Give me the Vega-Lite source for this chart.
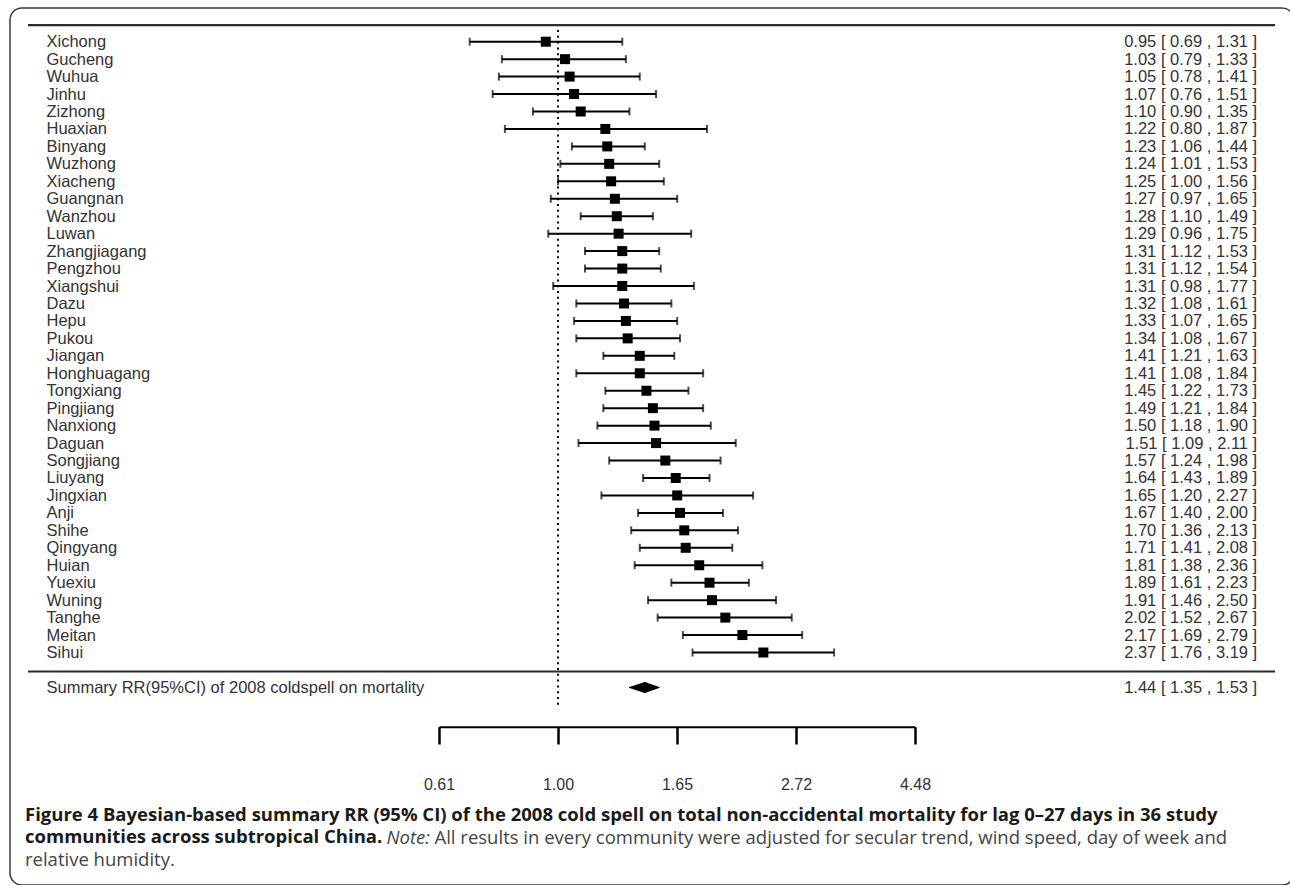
{
  "$schema": "https://vega.github.io/schema/vega-lite/v6.json",
  "width": 1284,
  "height": 877,
  "autosize": {"type": "none"},
  "padding": {"left": 10, "top": 8, "right": 0, "bottom": 0},
  "background": "white",
  "config": {
    "view": {"stroke": "#3a3a3a", "strokeWidth": 1.5, "cornerRadius": 12},
    "font": "Liberation Sans"
  },
  "title": {
    "text": [
      "Figure 4 Bayesian-based summary RR (95% CI) of the 2008 cold spell on total non-accidental mortality for lag 0–27 days in 36 study",
      "communities across subtropical China."
    ],
    "subtitle": "relative humidity.",
    "orient": "bottom",
    "anchor": "start",
    "frame": "group",
    "offset": -79.1,
    "dx": 15,
    "font": "Open Sans",
    "fontSize": 18.5,
    "fontWeight": "bold",
    "color": "#1a1a1a",
    "lineHeight": 22.5,
    "baseline": "top",
    "subtitleFont": "Open Sans",
    "subtitleFontSize": 18.5,
    "subtitleFontWeight": "normal",
    "subtitleColor": "#444444",
    "subtitlePadding": 4
  },
  "datasets": {
    "forest": [
      {"name": "Xichong", "ci": "0.95 [ 0.69 , 1.31 ]", "rr": 0.95, "lo": 0.69, "hi": 1.31, "kind": "community"},
      {"name": "Gucheng", "ci": "1.03 [ 0.79 , 1.33 ]", "rr": 1.03, "lo": 0.79, "hi": 1.33, "kind": "community"},
      {"name": "Wuhua", "ci": "1.05 [ 0.78 , 1.41 ]", "rr": 1.05, "lo": 0.78, "hi": 1.41, "kind": "community"},
      {"name": "Jinhu", "ci": "1.07 [ 0.76 , 1.51 ]", "rr": 1.07, "lo": 0.76, "hi": 1.51, "kind": "community"},
      {"name": "Zizhong", "ci": "1.10 [ 0.90 , 1.35 ]", "rr": 1.10, "lo": 0.90, "hi": 1.35, "kind": "community"},
      {"name": "Huaxian", "ci": "1.22 [ 0.80 , 1.87 ]", "rr": 1.22, "lo": 0.80, "hi": 1.87, "kind": "community"},
      {"name": "Binyang", "ci": "1.23 [ 1.06 , 1.44 ]", "rr": 1.23, "lo": 1.06, "hi": 1.44, "kind": "community"},
      {"name": "Wuzhong", "ci": "1.24 [ 1.01 , 1.53 ]", "rr": 1.24, "lo": 1.01, "hi": 1.53, "kind": "community"},
      {"name": "Xiacheng", "ci": "1.25 [ 1.00 , 1.56 ]", "rr": 1.25, "lo": 1.00, "hi": 1.56, "kind": "community"},
      {"name": "Guangnan", "ci": "1.27 [ 0.97 , 1.65 ]", "rr": 1.27, "lo": 0.97, "hi": 1.65, "kind": "community"},
      {"name": "Wanzhou", "ci": "1.28 [ 1.10 , 1.49 ]", "rr": 1.28, "lo": 1.10, "hi": 1.49, "kind": "community"},
      {"name": "Luwan", "ci": "1.29 [ 0.96 , 1.75 ]", "rr": 1.29, "lo": 0.96, "hi": 1.75, "kind": "community"},
      {"name": "Zhangjiagang", "ci": "1.31 [ 1.12 , 1.53 ]", "rr": 1.31, "lo": 1.12, "hi": 1.53, "kind": "community"},
      {"name": "Pengzhou", "ci": "1.31 [ 1.12 , 1.54 ]", "rr": 1.31, "lo": 1.12, "hi": 1.54, "kind": "community"},
      {"name": "Xiangshui", "ci": "1.31 [ 0.98 , 1.77 ]", "rr": 1.31, "lo": 0.98, "hi": 1.77, "kind": "community"},
      {"name": "Dazu", "ci": "1.32 [ 1.08 , 1.61 ]", "rr": 1.32, "lo": 1.08, "hi": 1.61, "kind": "community"},
      {"name": "Hepu", "ci": "1.33 [ 1.07 , 1.65 ]", "rr": 1.33, "lo": 1.07, "hi": 1.65, "kind": "community"},
      {"name": "Pukou", "ci": "1.34 [ 1.08 , 1.67 ]", "rr": 1.34, "lo": 1.08, "hi": 1.67, "kind": "community"},
      {"name": "Jiangan", "ci": "1.41 [ 1.21 , 1.63 ]", "rr": 1.41, "lo": 1.21, "hi": 1.63, "kind": "community"},
      {"name": "Honghuagang", "ci": "1.41 [ 1.08 , 1.84 ]", "rr": 1.41, "lo": 1.08, "hi": 1.84, "kind": "community"},
      {"name": "Tongxiang", "ci": "1.45 [ 1.22 , 1.73 ]", "rr": 1.45, "lo": 1.22, "hi": 1.73, "kind": "community"},
      {"name": "Pingjiang", "ci": "1.49 [ 1.21 , 1.84 ]", "rr": 1.49, "lo": 1.21, "hi": 1.84, "kind": "community"},
      {"name": "Nanxiong", "ci": "1.50 [ 1.18 , 1.90 ]", "rr": 1.50, "lo": 1.18, "hi": 1.90, "kind": "community"},
      {"name": "Daguan", "ci": "1.51 [ 1.09 , 2.11 ]", "rr": 1.51, "lo": 1.09, "hi": 2.11, "kind": "community"},
      {"name": "Songjiang", "ci": "1.57 [ 1.24 , 1.98 ]", "rr": 1.57, "lo": 1.24, "hi": 1.98, "kind": "community"},
      {"name": "Liuyang", "ci": "1.64 [ 1.43 , 1.89 ]", "rr": 1.64, "lo": 1.43, "hi": 1.89, "kind": "community"},
      {"name": "Jingxian", "ci": "1.65 [ 1.20 , 2.27 ]", "rr": 1.65, "lo": 1.20, "hi": 2.27, "kind": "community"},
      {"name": "Anji", "ci": "1.67 [ 1.40 , 2.00 ]", "rr": 1.67, "lo": 1.40, "hi": 2.00, "kind": "community"},
      {"name": "Shihe", "ci": "1.70 [ 1.36 , 2.13 ]", "rr": 1.70, "lo": 1.36, "hi": 2.13, "kind": "community"},
      {"name": "Qingyang", "ci": "1.71 [ 1.41 , 2.08 ]", "rr": 1.71, "lo": 1.41, "hi": 2.08, "kind": "community"},
      {"name": "Huian", "ci": "1.81 [ 1.38 , 2.36 ]", "rr": 1.81, "lo": 1.38, "hi": 2.36, "kind": "community"},
      {"name": "Yuexiu", "ci": "1.89 [ 1.61 , 2.23 ]", "rr": 1.89, "lo": 1.61, "hi": 2.23, "kind": "community"},
      {"name": "Wuning", "ci": "1.91 [ 1.46 , 2.50 ]", "rr": 1.91, "lo": 1.46, "hi": 2.50, "kind": "community"},
      {"name": "Tanghe", "ci": "2.02 [ 1.52 , 2.67 ]", "rr": 2.02, "lo": 1.52, "hi": 2.67, "kind": "community"},
      {"name": "Meitan", "ci": "2.17 [ 1.69 , 2.79 ]", "rr": 2.17, "lo": 1.69, "hi": 2.79, "kind": "community"},
      {"name": "Sihui", "ci": "2.37 [ 1.76 , 3.19 ]", "rr": 2.37, "lo": 1.76, "hi": 3.19, "kind": "community"},
      {"name": "Summary RR(95%CI) of 2008 coldspell on mortality", "ci": "1.44 [ 1.35 , 1.53 ]", "rr": 1.44, "lo": 1.35, "hi": 1.53, "kind": "summary"}
    ],
    "diamond": [
      {"name": "Summary RR(95%CI) of 2008 coldspell on mortality", "value": 1.35, "vertex": "end"},
      {"name": "Summary RR(95%CI) of 2008 coldspell on mortality", "value": 1.44, "vertex": "center"},
      {"name": "Summary RR(95%CI) of 2008 coldspell on mortality", "value": 1.53, "vertex": "end"}
    ]
  },
  "data": {"name": "forest"},
  "layer": [
    {
      "layer": [
        {
          "transform": [{"filter": "datum.kind === 'community'"}],
          "mark": {"type": "rule", "color": "black", "strokeWidth": 2},
          "encoding": {
            "x": {
              "field": "lo",
              "type": "quantitative",
              "scale": {"type": "log", "domain": [0.60653, 4.48169], "range": [429, 905], "nice": false, "zero": false},
              "axis": {
                "orient": "bottom",
                "offset": -158.3,
                "title": null,
                "values": [0.60653, 1, 1.64872, 2.71828, 4.48169],
                "format": ".2f",
                "grid": false,
                "domainColor": "black",
                "domainWidth": 2,
                "tickColor": "black",
                "tickWidth": 2.5,
                "tickSize": 17.3,
                "labelPadding": 32,
                "labelFont": "Liberation Sans",
                "labelFontSize": 16,
                "labelColor": "#333333",
                "labelFlush": false,
                "labelOverlap": false
              }
            },
            "x2": {"field": "hi"},
            "y": {
              "field": "name",
              "type": "nominal",
              "scale": {
                "type": "point",
                "padding": 0,
                "range": [33.7, 679.4],
                "domain": ["Xichong", "Gucheng", "Wuhua", "Jinhu", "Zizhong", "Huaxian", "Binyang", "Wuzhong", "Xiacheng", "Guangnan", "Wanzhou", "Luwan", "Zhangjiagang", "Pengzhou", "Xiangshui", "Dazu", "Hepu", "Pukou", "Jiangan", "Honghuagang", "Tongxiang", "Pingjiang", "Nanxiong", "Daguan", "Songjiang", "Liuyang", "Jingxian", "Anji", "Shihe", "Qingyang", "Huian", "Yuexiu", "Wuning", "Tanghe", "Meitan", "Sihui", " ", "Summary RR(95%CI) of 2008 coldspell on mortality"]
              },
              "axis": {
                "orient": "left",
                "offset": -36,
                "title": null,
                "domain": false,
                "ticks": false,
                "tickSize": 0,
                "grid": false,
                "labelAlign": "left",
                "labelBaseline": "middle",
                "labelPadding": 0,
                "labelFont": "Liberation Sans",
                "labelFontSize": 16.5,
                "labelColor": "#333333",
                "labelLimit": 1000,
                "labelOverlap": false
              }
            }
          }
        },
        {
          "transform": [{"filter": "datum.kind === 'community'"}],
          "mark": {"type": "tick", "color": "black", "thickness": 2, "size": 8},
          "encoding": {
            "x": {"field": "lo", "type": "quantitative"},
            "y": {"field": "name", "type": "nominal"}
          }
        },
        {
          "transform": [{"filter": "datum.kind === 'community'"}],
          "mark": {"type": "tick", "color": "black", "thickness": 2, "size": 8},
          "encoding": {
            "x": {"field": "hi", "type": "quantitative"},
            "y": {"field": "name", "type": "nominal"}
          }
        },
        {
          "transform": [{"filter": "datum.kind === 'community'"}],
          "mark": {"type": "point", "shape": "square", "filled": true, "color": "black", "opacity": 1, "size": 100},
          "encoding": {
            "x": {"field": "rr", "type": "quantitative"},
            "y": {"field": "name", "type": "nominal"}
          }
        },
        {
          "data": {"name": "diamond"},
          "mark": {"type": "trail", "color": "black"},
          "encoding": {
            "x": {"field": "value", "type": "quantitative"},
            "y": {"field": "name", "type": "nominal"},
            "size": {
              "field": "vertex",
              "type": "nominal",
              "scale": {"type": "point", "domain": ["end", "center"], "range": [0, 11], "padding": 0},
              "legend": null
            },
            "order": {"field": "value", "type": "quantitative"}
          }
        }
      ]
    },
    {
      "data": {"values": [{}]},
      "layer": [
        {
          "mark": {"type": "rule", "color": "#2b2b2b", "strokeWidth": 2.2},
          "encoding": {
            "x": {
              "datum": 0,
              "type": "quantitative",
              "scale": {"domain": [0, 1], "range": [18, 1265], "nice": false, "zero": false},
              "axis": {
                "orient": "bottom",
                "offset": 0,
                "domain": false,
                "ticks": false,
                "labels": false,
                "grid": false,
                "title": "Note:",
                "titleX": 376,
                "titleY": -42,
                "titleAlign": "left",
                "titleAngle": 0,
                "titleBaseline": "alphabetic",
                "titleFont": "Open Sans",
                "titleFontSize": 18.5,
                "titleFontStyle": "italic",
                "titleFontWeight": "normal",
                "titleColor": "#444444"
              }
            },
            "x2": {"datum": 1},
            "y": {
              "datum": 0.05,
              "type": "quantitative",
              "scale": {"domain": [1, 38], "range": [33.7, 679.4], "nice": false, "zero": false},
              "axis": null
            }
          }
        },
        {
          "mark": {"type": "rule", "color": "#2b2b2b", "strokeWidth": 2.2},
          "encoding": {
            "x": {"datum": 0, "type": "quantitative"},
            "x2": {"datum": 1},
            "y": {"datum": 37.09, "type": "quantitative"}
          }
        }
      ]
    },
    {
      "mark": {"type": "point", "opacity": 0},
      "encoding": {
        "y": {
          "field": "ci",
          "type": "nominal",
          "scale": {
            "type": "point",
            "padding": 0,
            "range": [33.7, 679.4],
            "domain": ["0.95 [ 0.69 , 1.31 ]", "1.03 [ 0.79 , 1.33 ]", "1.05 [ 0.78 , 1.41 ]", "1.07 [ 0.76 , 1.51 ]", "1.10 [ 0.90 , 1.35 ]", "1.22 [ 0.80 , 1.87 ]", "1.23 [ 1.06 , 1.44 ]", "1.24 [ 1.01 , 1.53 ]", "1.25 [ 1.00 , 1.56 ]", "1.27 [ 0.97 , 1.65 ]", "1.28 [ 1.10 , 1.49 ]", "1.29 [ 0.96 , 1.75 ]", "1.31 [ 1.12 , 1.53 ]", "1.31 [ 1.12 , 1.54 ]", "1.31 [ 0.98 , 1.77 ]", "1.32 [ 1.08 , 1.61 ]", "1.33 [ 1.07 , 1.65 ]", "1.34 [ 1.08 , 1.67 ]", "1.41 [ 1.21 , 1.63 ]", "1.41 [ 1.08 , 1.84 ]", "1.45 [ 1.22 , 1.73 ]", "1.49 [ 1.21 , 1.84 ]", "1.50 [ 1.18 , 1.90 ]", "1.51 [ 1.09 , 2.11 ]", "1.57 [ 1.24 , 1.98 ]", "1.64 [ 1.43 , 1.89 ]", "1.65 [ 1.20 , 2.27 ]", "1.67 [ 1.40 , 2.00 ]", "1.70 [ 1.36 , 2.13 ]", "1.71 [ 1.41 , 2.08 ]", "1.81 [ 1.38 , 2.36 ]", "1.89 [ 1.61 , 2.23 ]", "1.91 [ 1.46 , 2.50 ]", "2.02 [ 1.52 , 2.67 ]", "2.17 [ 1.69 , 2.79 ]", "2.37 [ 1.76 , 3.19 ]", " ", "1.44 [ 1.35 , 1.53 ]"]
          },
          "axis": {
            "orient": "right",
            "offset": -37.3,
            "title": null,
            "domain": false,
            "ticks": false,
            "tickSize": 0,
            "grid": false,
            "labelAlign": "right",
            "labelBaseline": "middle",
            "labelPadding": 0,
            "labelFont": "Liberation Sans",
            "labelFontSize": 16.5,
            "labelColor": "#333333",
            "labelLimit": 1000,
            "labelOverlap": false
          }
        }
      }
    },
    {
      "data": {"values": [{}]},
      "mark": {"type": "rule", "color": "black", "strokeWidth": 2, "strokeDash": [2, 3.8]},
      "encoding": {
        "x": {
          "datum": 1,
          "type": "quantitative",
          "scale": {"type": "log", "domain": [0.60653, 4.48169], "range": [429, 905], "nice": false, "zero": false},
          "axis": {
            "orient": "bottom",
            "offset": 0,
            "domain": false,
            "ticks": false,
            "labels": false,
            "grid": false,
            "title": "All results in every community were adjusted for secular trend, wind speed, day of week and",
            "titleX": 424,
            "titleY": -42,
            "titleAlign": "left",
            "titleAngle": 0,
            "titleBaseline": "alphabetic",
            "titleFont": "Open Sans",
            "titleFontSize": 18.5,
            "titleFontWeight": "normal",
            "titleColor": "#444444"
          }
        },
        "y": {
          "datum": 0.33,
          "type": "quantitative",
          "scale": {"domain": [1, 38], "range": [33.7, 679.4], "nice": false, "zero": false},
          "axis": null
        },
        "y2": {"datum": 39.0}
      }
    }
  ],
  "resolve": {
    "scale": {"x": "independent", "y": "independent", "size": "independent"},
    "axis": {"x": "independent", "y": "independent"}
  }
}
